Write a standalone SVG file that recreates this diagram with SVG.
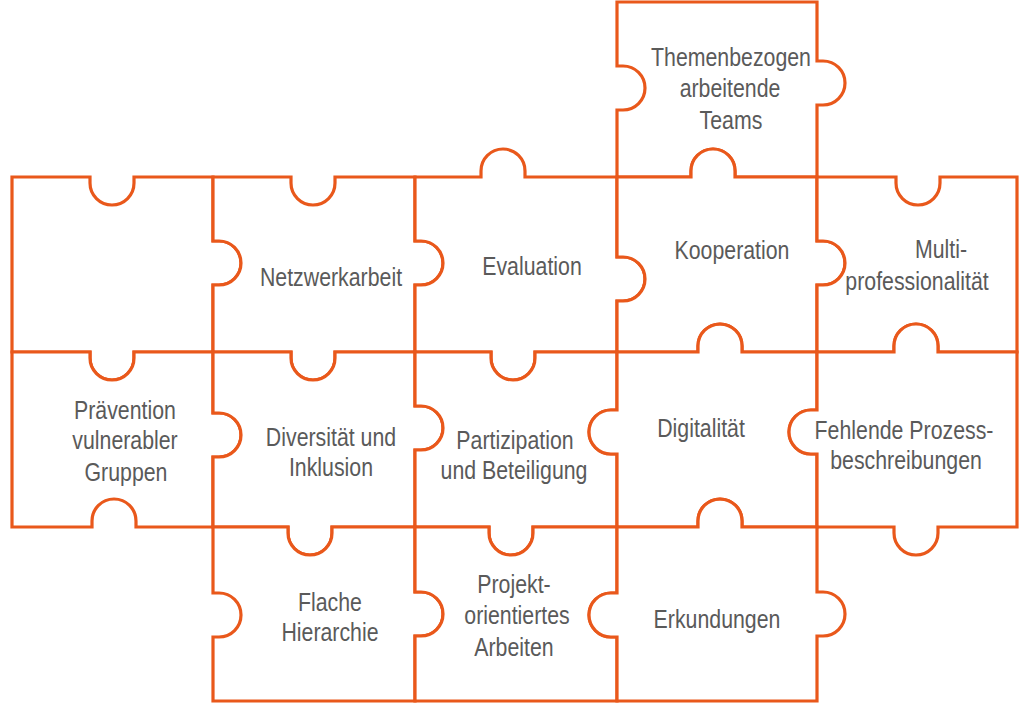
<svg xmlns="http://www.w3.org/2000/svg" width="1024" height="706" viewBox="0 0 1024 706">
<style>
.p{fill:#ffffff;stroke:#E9581B;stroke-width:3.2;stroke-linejoin:miter}
.t{font-family:"Liberation Sans",Arial,sans-serif;font-size:26px;fill:#5a5a5a;text-anchor:middle}
</style>
<rect width="1024" height="706" fill="#ffffff"/>
<g id="connectors"></g>
<g id="n-themen">
<path class="p" d="M617,2 L817,2 L817,61 L823,61 A22,22 0 0 1 823,105 L817,105 L817,177 L735,177 L735,171 A22,22 0 0 0 691,171 L691,177 L617,177 L617,110 L623,110 A22,22 0 0 0 623,66 L617,66 Z"/>
<text class="t" transform="translate(731,66) scale(0.82,1)">Themenbezogen</text>
<text class="t" transform="translate(730,97) scale(0.82,1)">arbeitende</text>
<text class="t" transform="translate(731,129) scale(0.82,1)">Teams</text>
</g>
<g id="n-empty">
<path class="p" d="M12,177 L90,177 L90,183 A22,22 0 0 0 134,183 L134,177 L213,177 L213,241 L219,241 A22,22 0 0 1 219,285 L213,285 L213,352 L134,352 L134,358 A22,22 0 0 1 90,358 L90,352 L12,352 Z"/>
</g>
<g id="n-netzwerk">
<path class="p" d="M213,177 L291,177 L291,183 A22,22 0 0 0 335,183 L335,177 L415,177 L415,241 L421,241 A22,22 0 0 1 421,285 L415,285 L415,352 L335,352 L335,358 A22,22 0 0 1 291,358 L291,352 L213,352 L213,285 L219,285 A22,22 0 0 0 219,241 L213,241 Z"/>
<text class="t" transform="translate(331,286) scale(0.82,1)">Netzwerkarbeit</text>
</g>
<g id="n-evaluation">
<path class="p" d="M415,177 L481,177 L481,171 A22,22 0 0 1 525,171 L525,177 L617,177 L617,257 L623,257 A22,22 0 0 1 623,301 L617,301 L617,352 L535,352 L535,358 A22,22 0 0 1 491,358 L491,352 L415,352 L415,285 L421,285 A22,22 0 0 0 421,241 L415,241 Z"/>
<text class="t" transform="translate(532,275) scale(0.82,1)">Evaluation</text>
</g>
<g id="n-kooperation">
<path class="p" d="M617,177 L691,177 L691,171 A22,22 0 0 1 735,171 L735,177 L817,177 L817,241 L823,241 A22,22 0 0 1 823,285 L817,285 L817,352 L742,352 L742,346 A22,22 0 0 0 698,346 L698,352 L617,352 L617,301 L623,301 A22,22 0 0 0 623,257 L617,257 Z"/>
<text class="t" transform="translate(732,259) scale(0.82,1)">Kooperation</text>
</g>
<g id="n-multi">
<path class="p" d="M817,177 L896,177 L896,183 A22,22 0 0 0 940,183 L940,177 L1017,177 L1017,352 L938,352 L938,346 A22,22 0 0 0 894,346 L894,352 L817,352 L817,285 L823,285 A22,22 0 0 0 823,241 L817,241 Z"/>
<text class="t" transform="translate(941,258) scale(0.82,1)">Multi-</text>
<text class="t" transform="translate(917,290) scale(0.82,1)">professionalität</text>
</g>
<g id="n-praevention">
<path class="p" d="M12,352 L90,352 L90,358 A22,22 0 0 0 134,358 L134,352 L213,352 L213,413 L219,413 A22,22 0 0 1 219,457 L213,457 L213,527 L136,527 L136,521 A22,22 0 0 0 92,521 L92,527 L12,527 Z"/>
<text class="t" transform="translate(125,419) scale(0.82,1)">Prävention</text>
<text class="t" transform="translate(125,449) scale(0.82,1)">vulnerabler</text>
<text class="t" transform="translate(126,481) scale(0.82,1)">Gruppen</text>
</g>
<g id="n-diversitaet">
<path class="p" d="M213,352 L291,352 L291,358 A22,22 0 0 0 335,358 L335,352 L415,352 L415,406 L421,406 A22,22 0 0 1 421,450 L415,450 L415,527 L332,527 L332,533 A22,22 0 0 1 288,533 L288,527 L213,527 L213,457 L219,457 A22,22 0 0 0 219,413 L213,413 Z"/>
<text class="t" transform="translate(331,446) scale(0.82,1)">Diversität und</text>
<text class="t" transform="translate(331,476) scale(0.82,1)">Inklusion</text>
</g>
<g id="n-partizipation">
<path class="p" d="M415,352 L491,352 L491,358 A22,22 0 0 0 535,358 L535,352 L617,352 L617,410 L611,410 A22,22 0 0 0 611,454 L617,454 L617,527 L533,527 L533,533 A22,22 0 0 1 489,533 L489,527 L415,527 L415,450 L421,450 A22,22 0 0 0 421,406 L415,406 Z"/>
<text class="t" transform="translate(515,449) scale(0.82,1)">Partizipation</text>
<text class="t" transform="translate(514,479) scale(0.82,1)">und Beteiligung</text>
</g>
<g id="n-digitalitaet">
<path class="p" d="M617,352 L698,352 L698,346 A22,22 0 0 1 742,346 L742,352 L817,352 L817,410 L811,410 A22,22 0 0 0 811,454 L817,454 L817,527 L742,527 L742,521 A22,22 0 0 0 698,521 L698,527 L617,527 L617,454 L611,454 A22,22 0 0 1 611,410 L617,410 Z"/>
<text class="t" transform="translate(701,437) scale(0.82,1)">Digitalität</text>
</g>
<g id="n-fehlende">
<path class="p" d="M817,352 L894,352 L894,346 A22,22 0 0 1 938,346 L938,352 L1017,352 L1017,527 L938,527 L938,533 A22,22 0 0 1 894,533 L894,527 L817,527 L817,454 L811,454 A22,22 0 0 1 811,410 L817,410 Z"/>
<text class="t" transform="translate(904,439) scale(0.82,1)">Fehlende Prozess-</text>
<text class="t" transform="translate(906,469) scale(0.82,1)">beschreibungen</text>
</g>
<g id="n-flache">
<path class="p" d="M213,527 L288,527 L288,533 A22,22 0 0 0 332,533 L332,527 L415,527 L415,592 L421,592 A22,22 0 0 1 421,636 L415,636 L415,701 L213,701 L213,637 L219,637 A22,22 0 0 0 219,593 L213,593 Z"/>
<text class="t" transform="translate(330,611) scale(0.82,1)">Flache</text>
<text class="t" transform="translate(330,641) scale(0.82,1)">Hierarchie</text>
</g>
<g id="n-projekt">
<path class="p" d="M415,527 L489,527 L489,533 A22,22 0 0 0 533,533 L533,527 L617,527 L617,593 L611,593 A22,22 0 0 0 611,637 L617,637 L617,701 L415,701 L415,636 L421,636 A22,22 0 0 0 421,592 L415,592 Z"/>
<text class="t" transform="translate(514,593) scale(0.82,1)">Projekt-</text>
<text class="t" transform="translate(517,624) scale(0.82,1)">orientiertes</text>
<text class="t" transform="translate(514,656) scale(0.82,1)">Arbeiten</text>
</g>
<g id="n-erkundungen">
<path class="p" d="M617,527 L698,527 L698,521 A22,22 0 0 1 742,521 L742,527 L817,527 L817,592 L823,592 A22,22 0 0 1 823,636 L817,636 L817,701 L617,701 L617,637 L611,637 A22,22 0 0 1 611,593 L617,593 Z"/>
<text class="t" transform="translate(717,628) scale(0.82,1)">Erkundungen</text>
</g>
</svg>
